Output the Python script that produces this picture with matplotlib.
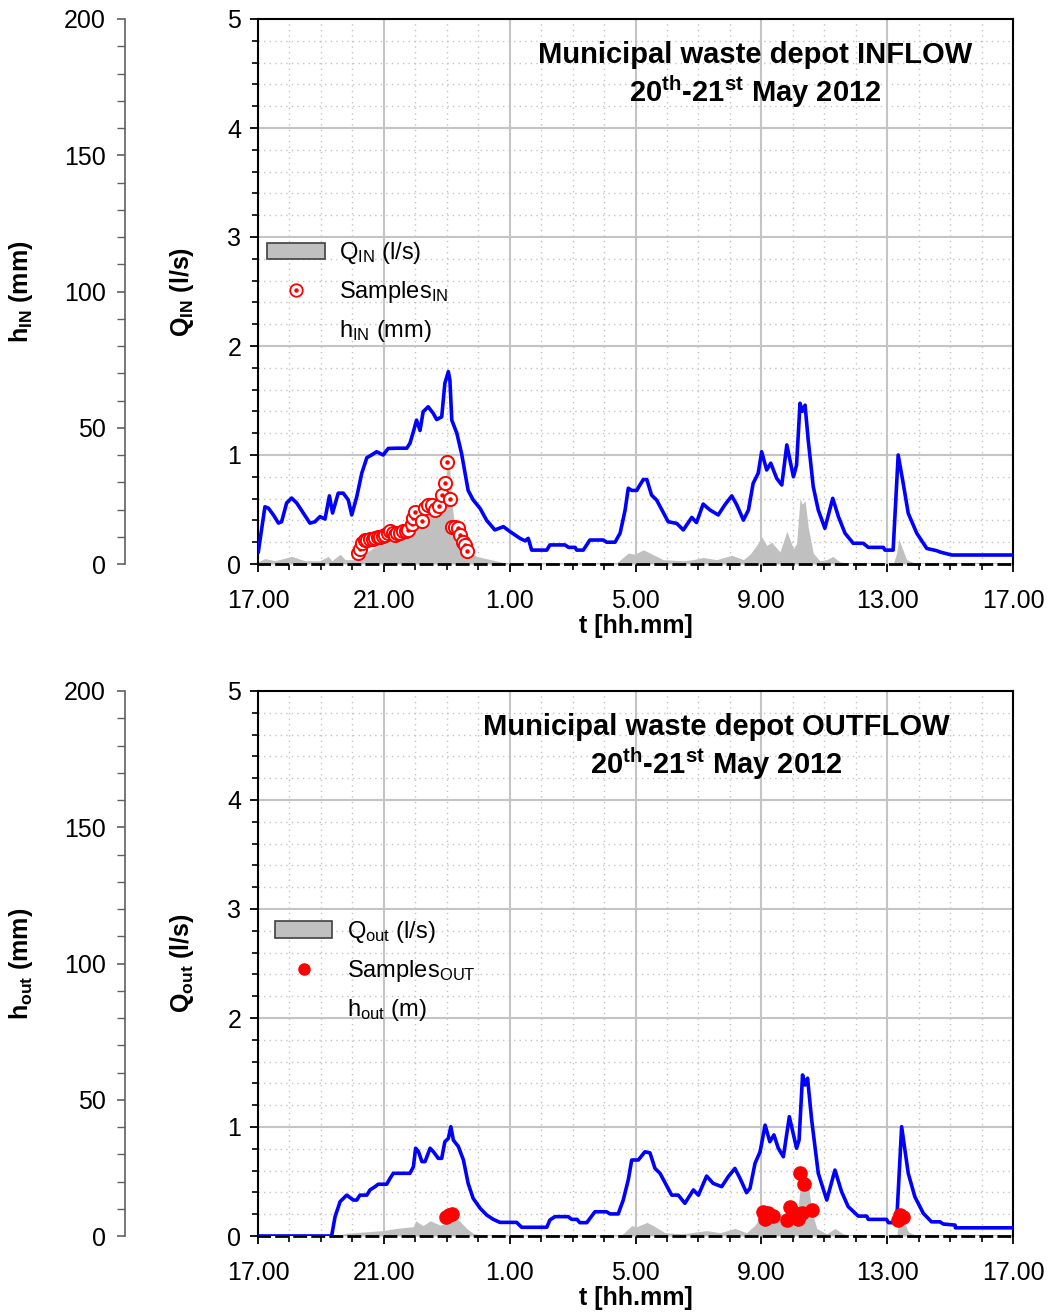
import matplotlib
matplotlib.use("Agg")
import matplotlib.pyplot as plt
from matplotlib.patches import Patch
from matplotlib.lines import Line2D
from matplotlib.ticker import MultipleLocator
from matplotlib.legend_handler import HandlerTuple

plt.rcParams['font.family'] = ['Liberation Sans', 'DejaVu Sans']
plt.rcParams['mathtext.fontset'] = 'custom'
plt.rcParams['mathtext.rm'] = 'Liberation Sans'
plt.rcParams['mathtext.bf'] = 'Liberation Sans:bold'
plt.rcParams['mathtext.it'] = 'Liberation Sans:italic'
plt.rcParams['mathtext.sf'] = 'Liberation Sans'

# Time axis: hours elapsed since 17.00 on 20 May 2012
time_ticks = [0, 4, 8, 12, 16, 20, 24]
time_labels = ['17.00', '21.00', '1.00', '5.00', '9.00', '13.00', '17.00']

# ---------------- INFLOW ----------------
t_h_in = [0.01, 0.22, 0.33, 0.49, 0.65, 0.75, 0.91, 1.07, 1.23, 1.44, 1.65, 1.81,
          1.97, 2.13, 2.27, 2.37, 2.55, 2.71, 2.87, 2.98, 3.14, 3.30, 3.46, 3.61,
          3.77, 3.98, 4.14, 4.41, 4.73, 4.83, 4.94, 5.04, 5.15, 5.25, 5.41, 5.57,
          5.68, 5.84, 5.94, 6.05, 6.10, 6.16, 6.32, 6.47, 6.68, 6.84, 7.06, 7.27,
          7.53, 7.80, 8.01, 8.33, 8.49, 8.59, 8.70, 9.18, 9.28, 9.76, 9.87, 10.08,
          10.13, 10.34, 10.55, 10.98, 11.08, 11.35, 11.51, 11.67, 11.77, 11.88, 12.04,
          12.14, 12.25, 12.36, 12.51, 12.67, 13.04, 13.31, 13.52, 13.79, 13.94, 14.15,
          14.37, 14.63, 14.84, 15.06, 15.22, 15.43, 15.59, 15.74, 15.90, 16.01, 16.17,
          16.30, 16.49, 16.65, 16.81, 17.02, 17.12, 17.23, 17.30, 17.39, 17.49, 17.65,
          17.81, 18.02, 18.27, 18.45, 18.66, 18.92, 19.24, 19.40, 19.88, 19.93, 20.19,
          20.35, 20.51, 20.67, 20.94, 21.26, 21.57, 21.68, 22.05, 24.00]
h_in = [4.5, 21.0, 20.5, 18.0, 15.0, 15.5, 22.4, 24.2, 22.4, 18.7, 15.0, 15.5,
        17.4, 16.5, 25.0, 18.7, 26.0, 26.0, 23.5, 18.0, 24.7, 33.4, 39.0, 40.0,
        41.2, 40.0, 42.4, 42.5, 42.5, 44.3, 48.6, 52.8, 49.0, 55.9, 57.7, 55.3,
        53.0, 54.0, 66.3, 70.6, 67.5, 52.8, 48.0, 40.6, 27.0, 23.5, 20.4, 16.0,
        12.5, 13.7, 11.9, 9.4, 8.5, 9.4, 5.1, 5.1, 7.0, 7.0, 6.1, 6.1,
        5.1, 5.1, 8.8, 8.8, 8.0, 8.0, 11.3, 19.8, 27.8, 27.0, 27.0,
        29.0, 31.0, 31.0, 25.3, 23.5, 15.5, 14.9, 12.5, 17.1, 15.2, 22.0,
        19.8, 18.0, 21.7, 25.0, 21.7, 16.1, 19.8, 29.6, 33.3, 41.2, 34.5,
        37.0, 31.4, 29.0, 43.7, 32.0, 36.3, 59.0, 56.0, 58.3, 45.5, 28.4,
        19.8, 13.1, 24.1, 17.4, 11.3, 7.6, 7.6, 6.1, 6.1, 5.1, 5.1,
        40.0, 29.6, 18.6, 11.3, 5.7, 4.9, 4.4, 3.3, 3.3]

t_q_in = [0.00, 0.22, 0.54, 1.07, 1.49, 1.97, 2.23, 2.35, 2.61, 2.77, 3.08, 3.46,
          4.20, 4.73, 5.04, 5.25, 5.68, 5.89, 6.00, 6.08, 6.16, 6.26, 6.53, 6.95,
          7.69, 8.01, 11.40, 11.77, 11.98, 12.25, 12.46, 12.88, 13.52, 13.84, 14.15,
          14.58, 15.06, 15.43, 15.64, 15.85, 16.01, 16.17, 16.33, 16.59, 16.81, 17.02,
          17.12, 17.23, 17.30, 17.39, 17.49, 17.65, 17.86, 18.08, 18.27, 18.50, 18.82,
          20.19, 20.30, 20.37, 20.46, 20.62, 20.94, 24.00]
q_in = [0.02, 0.05, 0.03, 0.07, 0.03, 0.03, 0.07, 0.03, 0.09, 0.04, 0.04, 0.11,
        0.24, 0.28, 0.43, 0.53, 0.53, 0.56, 0.89, 0.95, 0.56, 0.34, 0.16, 0.07,
        0.02, 0.00, 0.01, 0.10, 0.09, 0.13, 0.10, 0.04, 0.03, 0.04, 0.06,
        0.04, 0.08, 0.04, 0.09, 0.17, 0.25, 0.17, 0.20, 0.11, 0.30, 0.14,
        0.19, 0.60, 0.55, 0.58, 0.34, 0.10, 0.03, 0.04, 0.07, 0.02, 0.00,
        0.00, 0.10, 0.23, 0.16, 0.04, 0.00, 0.00]

t_s_in = [3.19, 3.24, 3.30, 3.40, 3.48, 3.56, 3.64, 3.72, 3.80, 3.88, 3.96, 4.04,
          4.12, 4.20, 4.28, 4.35, 4.43, 4.51, 4.62, 4.70, 4.78, 4.89, 4.94, 4.99,
          5.20, 5.31, 5.41, 5.52, 5.63, 5.76, 5.84, 5.94, 6.02, 6.10, 6.16, 6.26,
          6.37, 6.42, 6.51, 6.58, 6.63]
q_s_in = [0.10, 0.14, 0.19, 0.22, 0.22, 0.23, 0.23, 0.24, 0.25, 0.25, 0.26, 0.27,
          0.28, 0.30, 0.28, 0.27, 0.28, 0.28, 0.30, 0.30, 0.31, 0.37, 0.42, 0.48,
          0.39, 0.51, 0.54, 0.54, 0.50, 0.53, 0.63, 0.74, 0.94, 0.60, 0.34, 0.34,
          0.33, 0.27, 0.20, 0.17, 0.12]

# ---------------- OUTFLOW ----------------
t_h_out = [0.00, 2.34, 2.45, 2.61, 2.82, 3.03, 3.14, 3.24, 3.46, 3.56, 3.72, 3.82,
           4.09, 4.20, 4.30, 4.83, 4.94, 5.01, 5.10, 5.21, 5.31, 5.47, 5.57, 5.73,
           5.84, 5.94, 6.05, 6.13, 6.21, 6.37, 6.53, 6.68, 6.84, 7.06, 7.27, 7.48,
           7.69, 8.22, 8.38, 9.18, 9.28, 9.44, 9.86, 9.97, 10.14, 10.23, 10.45, 10.71,
           11.08, 11.19, 11.45, 11.61, 11.77, 11.88, 12.09, 12.30, 12.46, 12.62, 12.78,
           13.15, 13.36, 13.57, 13.84, 14.00, 14.26, 14.47, 14.74, 14.95, 15.16, 15.32,
           15.53, 15.64, 15.80, 15.96, 16.12, 16.27, 16.40, 16.54, 16.70, 16.89, 17.12,
           17.20, 17.31, 17.39, 17.47, 17.60, 17.81, 18.08, 18.34, 18.55, 18.76, 19.08,
           19.35, 19.40, 19.98, 20.04, 20.30, 20.46, 20.67, 20.88, 21.15, 21.41, 21.68,
           21.78, 22.16, 22.17, 24.00]
h_out = [0.0, 0.0, 7.1, 12.6, 15.0, 13.2, 13.2, 15.0, 15.0, 16.9, 18.1, 19.0,
         19.0, 21.2, 23.0, 23.0, 25.4, 32.2, 31.0, 27.3, 27.3, 32.2, 31.0, 28.5,
         28.5, 34.6, 35.8, 40.1, 35.2, 32.8, 27.9, 19.3, 13.8, 10.2, 7.7, 6.1,
         5.0, 5.0, 3.2, 3.2, 5.9, 7.1, 7.1, 6.1, 6.1, 4.9, 4.9, 8.9,
         8.9, 8.1, 8.1, 13.2, 20.6, 27.9, 27.9, 30.9, 30.5, 24.8, 23.0,
         15.0, 15.0, 12.0, 16.9, 15.0, 22.0, 19.3, 18.1, 21.8, 24.8, 21.2,
         15.9, 17.5, 26.7, 30.9, 40.7, 34.6, 37.1, 32.2, 29.1, 43.8, 32.2,
         35.2, 59.1, 55.4, 57.9, 42.6, 23.0, 13.2, 24.2, 16.3, 10.8, 7.3,
         7.3, 6.1, 6.1, 4.9, 4.9, 40.1, 23.0, 14.4, 8.3, 5.2, 5.2,
         4.4, 4.0, 3.0, 3.0]

t_q_out = [0.00, 2.50, 2.82, 3.98, 4.41, 4.94, 5.01, 5.25, 5.47, 5.79, 6.10, 6.37,
           6.63, 6.84, 7.16, 7.37, 11.56, 11.88, 12.04, 12.36, 12.57, 12.94, 13.52,
           14.26, 14.69, 15.16, 15.53, 15.80, 16.06, 16.27, 16.43, 16.65, 16.86, 17.12,
           17.25, 17.39, 17.49, 17.60, 17.76, 18.08, 18.34, 18.60, 18.82, 20.30, 20.40,
           20.51, 20.67, 20.94, 24.00]
q_out = [0.00, 0.00, 0.025, 0.05, 0.07, 0.085, 0.14, 0.095, 0.14, 0.10, 0.13, 0.15,
         0.07, 0.025, 0.005, 0.00, 0.01, 0.095, 0.085, 0.125, 0.095, 0.03, 0.02,
         0.05, 0.03, 0.07, 0.03, 0.10, 0.21, 0.16, 0.19, 0.11, 0.24, 0.14,
         0.48, 0.42, 0.48, 0.24, 0.07, 0.02, 0.07, 0.02, 0.00, 0.00, 0.18,
         0.15, 0.04, 0.00, 0.00]

t_s_out = [5.98, 6.07, 6.17, 16.06, 16.12, 16.22, 16.38, 16.81, 16.91, 17.00, 17.18,
           17.29, 17.60, 17.23, 17.37, 20.35, 20.40, 20.50]
q_s_out = [0.17, 0.19, 0.20, 0.22, 0.16, 0.21, 0.18, 0.15, 0.27, 0.22, 0.16,
           0.21, 0.24, 0.58, 0.48, 0.15, 0.19, 0.17]

BLUE = '#0000ff'
GREY = '#c0c0c0'
RED = '#ff0000'
FS_TICK = 18
FS_LAB = 18
FS_LEG = 17
FS_TITLE = 21

fig = plt.figure(figsize=(10.57, 13.14), dpi=100)
W, H = 1057.0, 1314.0


def panel(top_px, t_h, h, t_q, q, t_s, q_s, open_markers, title1, qlab, hlab,
          leg_labels, leg_anchor, title_x):
    left, right, bottom = 258.0, 1013.0, top_px + 545.0
    ax = fig.add_axes([left / W, 1 - bottom / H, (right - left) / W, 545.0 / H])

    # discharge (grey area)
    ax.fill_between(t_q, q, 0, color=GREY, linewidth=0, zorder=2)
    ax.set_xlim(0, 24)
    ax.set_ylim(0, 5)
    ax.xaxis.set_major_locator(MultipleLocator(4))
    ax.xaxis.set_minor_locator(MultipleLocator(1))
    ax.set_xticks(time_ticks, time_labels)
    ax.yaxis.set_major_locator(MultipleLocator(1))
    ax.yaxis.set_minor_locator(MultipleLocator(0.2))
    ax.grid(which='major', color='#c4c4c4', linewidth=1.5, linestyle='-', zorder=0)
    ax.grid(which='minor', color='#c4c4c4', linewidth=1.0, linestyle=(0, (1, 3)), zorder=0)
    ax.set_axisbelow(True)
    ax.tick_params(axis='both', which='major', direction='out', length=6, width=1.3,
                   labelsize=FS_TICK, color='black')
    ax.tick_params(axis='x', which='major', pad=12)
    ax.tick_params(axis='y', which='major', pad=6)
    ax.tick_params(axis='both', which='minor', direction='out', length=4, width=1.2,
                   color='black')
    for s in ('left', 'top', 'right'):
        ax.spines[s].set_linewidth(1.5)
        ax.spines[s].set_color('black')
    ax.spines['bottom'].set_linestyle((0, (4, 2.5)))
    ax.spines['bottom'].set_linewidth(2.0)
    ax.set_xlabel('t [hh.mm]', fontsize=FS_LAB, fontweight='bold', labelpad=1)
    ax.set_ylabel(qlab, fontsize=FS_LAB, fontweight='bold')
    ax.yaxis.set_label_coords((196 - 258) / 755.0, 0.5)

    # water level axis (detached on the left)
    ax2 = ax.twinx()
    ax2.plot(t_h, h, color=BLUE, linewidth=2.6, zorder=3)
    ax2.set_ylim(0, 200)
    ax2.spines['left'].set_position(('axes', (125 - 258) / 755.0))
    ax2.spines['left'].set_visible(True)
    ax2.spines['left'].set_color('#606060')
    ax2.spines['left'].set_linewidth(1.2)
    for s in ('right', 'top', 'bottom'):
        ax2.spines[s].set_visible(False)
    ax2.yaxis.tick_left()
    ax2.yaxis.set_label_position('left')
    ax2.yaxis.set_major_locator(MultipleLocator(50))
    ax2.yaxis.set_minor_locator(MultipleLocator(10))
    ax2.tick_params(axis='y', which='major', direction='out', length=6, width=1.2,
                    color='#606060', labelsize=FS_TICK, pad=8)
    ax2.tick_params(axis='y', which='minor', direction='out', length=6, width=1.0,
                    color='#606060')
    ax2.set_ylabel(hlab, fontsize=FS_LAB, fontweight='bold')
    ax2.yaxis.set_label_coords((35 - 258) / 755.0, 0.5)

    # samples on top of everything
    ax3 = ax.twinx()
    ax3.set_ylim(0, 5)
    ax3.set_axis_off()
    if open_markers:
        for ts, qs in zip(t_s, q_s):
            ax3.plot([ts], [qs], marker='o', markersize=9.5, markerfacecolor='white',
                     markeredgecolor=RED, markeredgewidth=1.4, linestyle='none')
            ax3.plot([ts], [qs], marker='o', markersize=2.2, color=RED, linestyle='none')
        h_s = (Line2D([], [], marker='o', markersize=9, markerfacecolor='white',
                      markeredgecolor=RED, markeredgewidth=1.3, linestyle='none'),
               Line2D([], [], marker='o', markersize=2.2, color=RED, linestyle='none'))
    else:
        ax3.plot(t_s, q_s, marker='o', markersize=9.5, color=RED, linestyle='none')
        h_s = Line2D([], [], marker='o', markersize=8, color=RED, linestyle='none')

    handles = [Patch(facecolor=GREY, edgecolor='#404040', linewidth=1.2),
               h_s,
               Line2D([], [], color='none')]
    ax3.legend(handles, leg_labels, loc='upper left', bbox_to_anchor=leg_anchor,
               frameon=False, fontsize=FS_LEG, handlelength=2.45, handleheight=0.7,
               handletextpad=0.6, labelspacing=0.55, borderaxespad=0, borderpad=0,
               handler_map={tuple: HandlerTuple(ndivide=1)})

    ax3.text(title_x, 0.934, title1, transform=ax3.transAxes, ha='center', va='center',
             fontsize=FS_TITLE, fontweight='bold')
    ax3.text(title_x, 0.866, r'20$^{\mathbf{th}}$-21$^{\mathbf{st}}$ May 2012',
             transform=ax3.transAxes, ha='center', va='center',
             fontsize=FS_TITLE, fontweight='bold')


panel(19.0, t_h_in, h_in, t_q_in, q_in, t_s_in, q_s_in, True,
      'Municipal waste depot INFLOW',
      r'Q$_{\mathbf{IN}}$ (l/s)', r'h$_{\mathbf{IN}}$ (mm)',
      [r'Q$_{\mathrm{IN}}$ (l/s)', r'Samples$_{\mathrm{IN}}$', r'h$_{\mathrm{IN}}$ (mm)'],
      (0.012, 0.594), 0.658)

panel(691.0, t_h_out, h_out, t_q_out, q_out, t_s_out, q_s_out, False,
      'Municipal waste depot OUTFLOW',
      r'Q$_{\mathbf{out}}$ (l/s)', r'h$_{\mathbf{out}}$ (mm)',
      [r'Q$_{\mathrm{out}}$ (l/s)', r'Samples$_{\mathrm{OUT}}$', r'h$_{\mathrm{out}}$ (m)'],
      (0.022, 0.582), 0.607)

fig.savefig('out.png', dpi=100)
